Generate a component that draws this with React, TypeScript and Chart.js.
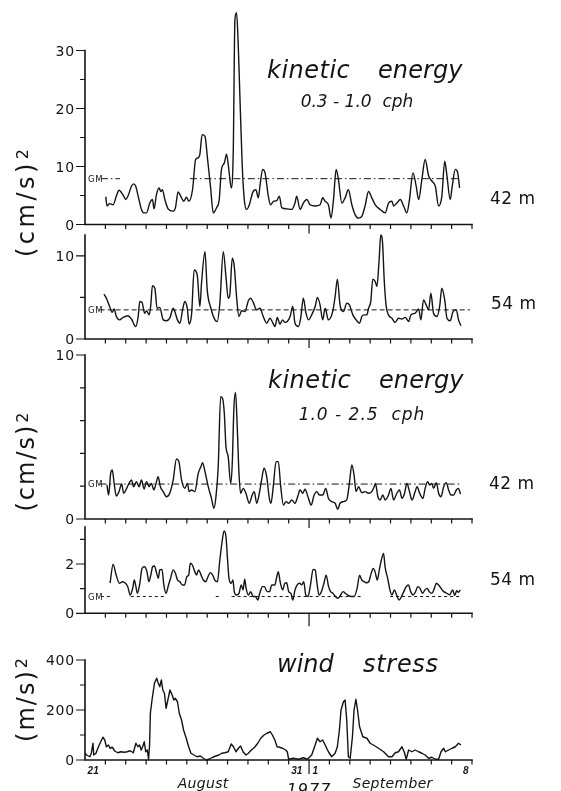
import React, { useEffect, useRef } from 'react';
import { Chart, registerables } from 'chart.js';

Chart.register(...registerables);

// ---------------- data (time = days since 21 Aug 1977 00:00) ----------------
const X_MIN = 0;
const X_MAX = 19;
const DAY_TICKS = [1, 2, 3, 4, 5, 6, 7, 8, 9, 10, 11, 12, 13, 14, 15, 16, 17, 18, 19];
const MONTH_BOUNDARY = 11;

const DATE_LABELS = ['21', '31', '1', '8'];
const DATE_LABEL_DAYS = [0.4, 10.4, 11.3, 18.7];
const MONTH_LABELS = ['August', 'September'];
const MONTH_LABEL_DAYS = [5.8, 15.1];
const YEAR_LABEL = '1977';
const YEAR_LABEL_DAY = 11.0;

// kinetic energy 0.3-1.0 cph, 42 m
const KE1_42_T = [1.02,1.08,1.21,1.38,1.54,1.67,1.79,1.90,2.00,2.11,2.28,2.39,2.49,2.61,2.77,2.90,3.02,3.18,3.31,3.39,3.51,3.64,3.72,3.80,3.92,4.08,4.33,4.44,4.57,4.74,4.85,4.98,5.10,5.28,5.43,5.56,5.64,5.75,5.89,6.02,6.16,6.30,6.46,6.59,6.70,6.84,6.95,7.08,7.18,7.28,7.36,7.44,7.52,7.61,7.72,7.82,7.93,8.07,8.23,8.39,8.51,8.59,8.72,8.84,9.00,9.11,9.25,9.41,9.54,9.66,9.90,10.15,10.31,10.39,10.56,10.72,10.89,11.05,11.30,11.54,11.67,11.79,11.95,12.08,12.20,12.33,12.44,12.61,12.77,12.93,13.10,13.26,13.43,13.59,13.75,13.92,14.08,14.25,14.49,14.74,14.90,15.07,15.15,15.31,15.48,15.64,15.80,15.93,16.10,16.26,16.38,16.54,16.70,16.87,17.03,17.20,17.36,17.52,17.66,17.77,17.93,18.03,18.18,18.30,18.39];
const KE1_42_V = [4.8,3.2,3.6,3.4,4.9,5.9,5.5,4.9,4.3,4.9,6.6,7.0,6.6,4.9,2.6,2.0,2.0,3.7,4.3,2.7,5.2,6.3,5.7,6.0,4.3,2.7,2.3,2.9,5.6,4.6,4.0,4.7,4.0,6.0,11.2,11.5,12.1,15.5,15.2,11.2,6.6,2.0,2.9,4.3,9.5,10.6,12.1,8.9,6.3,12.9,35.3,36.5,31.3,21.5,10.1,4.3,2.6,3.4,5.5,6.0,4.6,6.6,9.5,8.9,4.9,3.4,4.0,4.1,4.9,2.9,2.7,2.6,3.7,4.9,2.6,3.7,4.3,3.4,3.2,3.4,4.6,4.0,3.4,1.1,4.3,9.5,7.8,3.7,4.6,6.0,3.4,1.7,1.1,1.4,3.2,5.7,4.6,3.4,2.6,2.0,3.7,4.0,3.2,3.7,4.3,3.2,2.0,4.3,8.9,6.6,4.3,7.8,11.2,8.4,7.5,6.6,3.2,4.9,10.9,8.4,4.3,6.6,9.5,8.9,6.3];
const KE1_42_GM = 7.9;
const KE1_42_GM_SEGS = [[0.78, 1.72], [5.15, 18.4]];

// kinetic energy 0.3-1.0 cph, 54 m
const KE1_54_T = [0.93,1.05,1.21,1.33,1.43,1.54,1.70,1.87,2.11,2.28,2.49,2.61,2.69,2.80,2.93,3.02,3.15,3.23,3.31,3.43,3.54,3.67,3.84,4.00,4.16,4.33,4.41,4.54,4.66,4.79,4.90,5.02,5.11,5.23,5.36,5.51,5.64,5.72,5.89,6.00,6.18,6.38,6.49,6.62,6.79,6.92,7.03,7.11,7.23,7.33,7.44,7.56,7.69,7.85,8.02,8.13,8.26,8.43,8.59,8.75,8.92,9.08,9.21,9.33,9.44,9.57,9.70,9.82,9.93,10.07,10.20,10.31,10.48,10.59,10.72,10.85,10.97,11.13,11.30,11.41,11.54,11.67,11.79,11.95,12.16,12.28,12.39,12.52,12.69,12.85,12.98,13.15,13.31,13.48,13.59,13.70,13.84,13.92,14.03,14.13,14.25,14.33,14.44,14.52,14.61,14.69,14.79,14.90,15.07,15.23,15.39,15.56,15.72,15.89,16.00,16.21,16.38,16.49,16.62,16.75,16.87,16.98,17.11,17.28,17.41,17.52,17.66,17.77,17.93,18.07,18.23,18.34,18.46];
const KE1_54_V = [5.4,4.9,3.9,3.2,3.6,2.7,2.3,2.6,2.8,2.4,1.5,2.7,4.5,4.4,3.1,3.4,2.9,4.1,6.4,6.1,3.7,3.8,2.3,2.2,2.5,3.7,3.3,2.3,1.9,3.5,4.5,3.7,1.8,2.9,8.3,7.7,3.9,6.7,10.5,5.9,3.7,2.3,2.1,4.3,10.5,7.5,4.9,5.3,9.7,8.7,5.1,2.7,3.4,3.3,4.6,4.9,4.4,3.5,3.7,2.7,1.9,2.5,2.0,1.5,2.6,1.8,2.3,2.0,2.1,2.7,3.9,1.9,1.5,2.5,4.9,3.1,2.3,2.9,3.9,5.0,4.1,2.3,3.7,2.3,3.3,5.1,7.2,4.1,3.3,4.3,4.1,2.9,2.3,1.9,2.7,2.9,2.9,3.7,4.5,7.2,6.9,6.3,9.5,12.5,11.5,7.1,3.9,2.9,2.5,2.0,2.5,2.4,2.6,2.1,2.9,3.1,3.6,2.3,4.7,4.1,3.5,5.5,3.1,2.7,3.9,6.1,4.7,2.5,2.2,3.3,3.5,2.3,1.6];
const KE1_54_GM = 3.5;
const KE1_54_GM_SEGS = [[0.72, 18.9]];

// kinetic energy 1.0-2.5 cph, 42 m
const KE2_42_T = [1.08,1.16,1.26,1.34,1.43,1.54,1.67,1.80,1.90,2.03,2.16,2.28,2.39,2.52,2.66,2.77,2.90,3.02,3.15,3.26,3.38,3.48,3.59,3.70,3.84,4.00,4.16,4.33,4.49,4.61,4.74,4.90,5.03,5.11,5.23,5.39,5.56,5.69,5.77,5.89,6.05,6.21,6.33,6.43,6.54,6.66,6.75,6.84,6.92,7.03,7.15,7.23,7.31,7.39,7.48,7.56,7.64,7.77,7.90,8.07,8.18,8.31,8.43,8.56,8.67,8.79,8.92,9.05,9.13,9.25,9.38,9.49,9.61,9.74,9.87,10.00,10.15,10.31,10.44,10.56,10.69,10.80,10.97,11.10,11.25,11.38,11.51,11.67,11.82,11.95,12.11,12.28,12.41,12.52,12.69,12.85,12.98,13.10,13.21,13.31,13.43,13.59,13.75,13.92,14.08,14.20,14.26,14.38,14.49,14.62,14.74,14.90,15.02,15.15,15.31,15.44,15.56,15.69,15.80,15.93,16.05,16.21,16.30,16.43,16.59,16.70,16.82,16.92,17.03,17.11,17.25,17.36,17.48,17.61,17.74,17.85,17.97,18.10,18.23,18.33,18.44];
const KE2_42_V = [2.07,1.46,2.78,2.99,2.17,1.40,1.67,2.13,1.57,1.83,2.17,2.38,1.97,2.28,1.97,2.38,1.83,2.28,1.97,2.17,1.77,2.13,2.58,1.97,1.67,1.36,1.57,2.38,3.66,3.50,2.38,1.87,2.17,1.67,1.77,1.67,2.78,3.19,3.43,2.89,1.97,1.26,0.65,1.36,3.19,7.46,7.36,6.44,4.41,3.80,2.17,3.39,6.75,7.72,5.43,2.78,1.57,1.87,1.57,0.96,1.36,1.67,0.96,1.57,2.38,3.09,2.58,1.26,0.96,2.07,3.50,3.50,1.97,0.85,1.06,0.96,1.16,0.96,1.36,1.77,1.57,1.81,1.26,0.85,1.46,1.67,1.46,1.46,1.87,1.26,1.06,0.96,0.59,0.96,1.06,1.16,2.17,3.29,2.68,1.67,1.97,1.61,1.67,1.57,1.67,1.97,2.17,1.36,1.16,1.46,1.16,1.46,1.87,1.16,1.57,1.77,1.26,1.57,2.17,1.67,1.16,1.67,1.97,1.57,1.26,1.87,2.28,2.07,2.17,1.87,2.22,1.57,1.36,1.97,2.22,1.77,1.46,1.46,1.77,1.87,1.52];
const KE2_42_GM = 2.13;
const KE2_42_GM_SEGS = [[0.72, 18.43]];

// kinetic energy 1.0-2.5 cph, 54 m
const KE2_54_T = [1.23,1.38,1.53,1.69,1.84,1.99,2.10,2.22,2.34,2.42,2.50,2.57,2.68,2.80,2.92,3.04,3.14,3.23,3.32,3.41,3.52,3.60,3.67,3.78,3.87,3.98,4.10,4.20,4.33,4.44,4.54,4.66,4.78,4.89,5.00,5.09,5.17,5.27,5.39,5.47,5.58,5.70,5.81,5.93,6.04,6.16,6.27,6.37,6.50,6.62,6.72,6.83,6.92,7.00,7.07,7.18,7.26,7.33,7.44,7.56,7.67,7.76,7.84,7.91,8.02,8.14,8.25,8.37,8.48,8.58,8.71,8.81,8.94,9.06,9.17,9.32,9.40,9.49,9.58,9.70,9.81,9.90,10.00,10.11,10.20,10.31,10.42,10.54,10.64,10.74,10.84,10.95,11.07,11.20,11.30,11.38,11.49,11.61,11.73,11.84,11.96,12.06,12.17,12.30,12.42,12.52,12.67,12.78,12.90,13.06,13.21,13.36,13.48,13.59,13.70,13.82,13.93,14.05,14.15,14.24,14.35,14.45,14.55,14.66,14.73,14.86,14.97,15.07,15.19,15.30,15.42,15.54,15.65,15.77,15.88,15.99,16.11,16.23,16.34,16.45,16.57,16.69,16.80,16.90,17.03,17.15,17.25,17.36,17.48,17.61,17.71,17.90,18.05,18.15,18.25,18.33,18.43];
const KE2_54_V = [1.22,1.99,1.55,1.22,1.28,1.22,1.08,0.74,1.01,1.35,1.08,0.81,1.15,1.82,1.89,1.69,1.28,1.55,1.89,1.92,1.62,1.42,1.76,1.78,1.15,0.81,1.15,1.42,1.76,1.62,1.35,1.28,1.15,1.15,1.49,1.55,2.03,1.96,1.69,1.55,1.76,1.55,1.35,1.28,1.49,1.65,1.55,1.35,1.28,2.16,2.84,3.34,3.11,2.16,1.42,1.22,1.35,0.88,0.74,0.81,1.15,0.95,1.38,1.01,0.74,0.88,0.68,0.68,0.54,0.81,1.08,1.08,0.88,0.88,1.15,1.15,1.42,1.69,1.28,0.95,1.22,1.24,0.88,0.81,0.54,0.95,1.15,1.22,1.15,1.28,0.74,0.68,1.15,1.78,1.76,1.28,0.74,0.88,1.22,1.55,1.08,0.88,0.81,0.68,0.61,0.70,0.88,0.81,0.74,0.68,0.68,1.01,1.55,1.35,1.28,1.24,1.28,1.62,1.82,1.69,1.35,1.76,2.16,2.43,1.89,1.42,0.95,0.74,0.95,0.74,0.54,0.68,0.88,1.08,1.15,0.88,0.74,0.88,1.08,1.01,0.81,0.95,1.01,0.88,0.81,1.01,1.22,1.15,1.01,0.88,0.84,0.75,0.95,0.72,0.92,0.85,0.95];
const KE2_54_GM = 0.68;
const KE2_54_GM_SEGS = [[0.78, 1.31], [2.25, 3.9], [6.42, 6.58], [7.2, 13.67], [14.98, 18.43]];

// wind stress (m/s)^2
const WIND_T = [0.01,0.08,0.24,0.31,0.39,0.43,0.54,0.66,0.77,0.88,0.97,1.05,1.15,1.23,1.34,1.46,1.61,1.76,1.92,2.07,2.22,2.37,2.50,2.60,2.68,2.76,2.83,2.91,2.98,3.06,3.12,3.17,3.21,3.29,3.41,3.52,3.60,3.67,3.75,3.82,3.90,3.98,4.05,4.17,4.28,4.36,4.43,4.54,4.63,4.74,4.84,4.97,5.09,5.20,5.35,5.50,5.66,5.81,5.96,6.11,6.27,6.42,6.57,6.72,6.87,7.03,7.18,7.29,7.41,7.53,7.64,7.76,7.90,8.02,8.17,8.33,8.48,8.63,8.79,8.94,9.10,9.20,9.32,9.43,9.55,9.70,9.85,9.93,10.00,10.23,10.48,10.72,10.92,11.13,11.30,11.41,11.54,11.67,11.79,11.95,12.11,12.28,12.39,12.49,12.57,12.69,12.77,12.85,12.93,13.02,13.13,13.21,13.30,13.38,13.48,13.64,13.84,14.00,14.16,14.41,14.66,14.90,15.07,15.23,15.39,15.56,15.67,15.77,15.89,16.05,16.21,16.38,16.54,16.70,16.87,17.03,17.20,17.36,17.48,17.61,17.69,17.85,18.02,18.18,18.34,18.46];
const WIND_V = [27,20,13,27,67,20,27,53,73,91,80,53,60,47,51,36,29,33,31,33,37,29,67,53,60,40,53,73,33,40,3,60,187,240,307,327,307,293,320,280,267,207,233,280,260,240,247,233,187,160,120,87,53,27,20,13,16,7,0,4,11,16,20,27,29,33,64,53,33,47,56,33,20,27,40,51,67,87,100,107,113,100,80,53,51,47,40,33,3,7,3,9,3,20,60,87,73,80,60,33,13,27,53,120,200,233,240,160,13,7,93,200,243,200,133,93,87,67,60,47,33,13,13,29,33,53,33,3,40,33,40,33,27,20,7,11,3,3,33,47,33,40,47,53,67,60];

// ---------------- layout / style ----------------
const W = 561;
const H = 791;
const PLOT_LEFT = 85;
const PLOT_RIGHT = 472;
const INK = '#141414';
const SANS = '"DejaVu Sans", "Liberation Sans", sans-serif';

type TextItem = { text: string; x: number; y: number; font: string; align?: CanvasTextAlign; ls?: number };
type Panel = {
  t: number[]; v: number[]; smooth: boolean;
  yTop: number; topPx: number; zeroPx: number;
  ticks: number[]; labels: number[];
  gm?: { value: number; segs: number[][]; dash: number[] };
  longTick: number;
  texts: TextItem[];
  extra?: (chart: any) => void;
};

const TITLE_FONT = `italic 24px ${SANS}`;
const SUB_FONT = `italic 17px ${SANS}`;
const DEPTH_FONT = `17px ${SANS}`;

function drawText(ctx: CanvasRenderingContext2D, it: TextItem) {
  ctx.font = it.font;
  (ctx as any).letterSpacing = `${it.ls ?? 0}px`;
  ctx.textAlign = it.align ?? 'left';
  ctx.textBaseline = 'alphabetic';
  ctx.fillStyle = INK;
  ctx.fillText(it.text, it.x, it.y);
  (ctx as any).letterSpacing = '0px';
}

function drawRotTitle(ctx: CanvasRenderingContext2D, main: string, sup: string, cy: number, baseX: number, supBaseX: number, ls: number) {
  ctx.save();
  ctx.translate(baseX, cy);
  ctx.rotate(-Math.PI / 2);
  ctx.fillStyle = INK;
  ctx.textBaseline = 'alphabetic';
  ctx.textAlign = 'left';
  ctx.font = `24px ${SANS}`;
  (ctx as any).letterSpacing = `${ls}px`;
  const wM = ctx.measureText(main).width;
  ctx.font = `16px ${SANS}`;
  (ctx as any).letterSpacing = '0px';
  const wS = ctx.measureText(sup).width;
  const total = wM + 1 + wS;
  const start = -total / 2;
  ctx.font = `24px ${SANS}`;
  (ctx as any).letterSpacing = `${ls}px`;
  ctx.fillText(main, start, 0);
  ctx.font = `16px ${SANS}`;
  (ctx as any).letterSpacing = '0px';
  ctx.fillText(sup, start + wM + 1, supBaseX - baseX);
  ctx.restore();
}

const PANELS: Panel[] = [
  {
    t: KE1_42_T, v: KE1_42_V, smooth: true,
    yTop: 30, topPx: 50.5, zeroPx: 224.5,
    ticks: [0, 5, 10, 15, 20, 25, 30], labels: [0, 10, 20, 30],
    gm: { value: KE1_42_GM, segs: KE1_42_GM_SEGS, dash: [7, 3, 1.5, 3] },
    longTick: 9,
    texts: [
      { text: 'kinetic', x: 267, y: 78, font: TITLE_FONT, ls: 0.5 },
      { text: 'energy', x: 378, y: 78, font: TITLE_FONT, ls: 0.1 },
      { text: '0.3 - 1.0  cph', x: 357, y: 106.5, font: SUB_FONT, align: 'center', ls: 0 },
      { text: '42 m', x: 490, y: 203.5, font: DEPTH_FONT, ls: 0.5 },
    ],
    extra: (chart) => {
      drawRotTitle(chart.ctx, '(cm/s)', '2', 203, 34, 28, 3.5);
    },
  },
  {
    t: KE1_54_T, v: KE1_54_V, smooth: true,
    yTop: 12.5, topPx: 235, zeroPx: 339,
    ticks: [0, 5, 10], labels: [0, 10],
    gm: { value: KE1_54_GM, segs: KE1_54_GM_SEGS, dash: [5, 3] },
    longTick: 9,
    texts: [{ text: '54 m', x: 491, y: 308.5, font: DEPTH_FONT, ls: 0.5 }],
  },
  {
    t: KE2_42_T, v: KE2_42_V, smooth: true,
    yTop: 10, topPx: 355, zeroPx: 519,
    ticks: [0, 2, 4, 6, 8, 10], labels: [0, 10],
    gm: { value: KE2_42_GM, segs: KE2_42_GM_SEGS, dash: [7, 3, 1.5, 3] },
    longTick: 9,
    texts: [
      { text: 'kinetic', x: 268, y: 388, font: TITLE_FONT, ls: 0.5 },
      { text: 'energy', x: 379, y: 388, font: TITLE_FONT, ls: 0.1 },
      { text: '1.0 - 2.5  cph', x: 362, y: 420, font: SUB_FONT, align: 'center', ls: 1.0 },
      { text: '42 m', x: 489, y: 488.5, font: DEPTH_FONT, ls: 0.5 },
    ],
    extra: (chart) => {
      drawRotTitle(chart.ctx, '(cm/s)', '2', 462, 34, 28, 2.0);
    },
  },
  {
    t: KE2_54_T, v: KE2_54_V, smooth: true,
    yTop: 3.5, topPx: 527, zeroPx: 613.3,
    ticks: [0, 1, 2, 3], labels: [0, 2],
    gm: { value: KE2_54_GM, segs: KE2_54_GM_SEGS, dash: [3, 3] },
    longTick: 13,
    texts: [{ text: '54 m', x: 490, y: 585, font: DEPTH_FONT, ls: 0.5 }],
  },
  {
    t: WIND_T, v: WIND_V, smooth: false,
    yTop: 400, topPx: 660, zeroPx: 760,
    ticks: [0, 100, 200, 300, 400], labels: [0, 200, 400],
    longTick: 14,
    texts: [
      { text: 'wind', x: 277, y: 672, font: TITLE_FONT, ls: 0 },
      { text: 'stress', x: 363, y: 672, font: TITLE_FONT, ls: 0.7 },
    ],
    extra: (chart) => {
      const ctx = chart.ctx as CanvasRenderingContext2D;
      const xs = chart.scales.x;
      drawRotTitle(ctx, '(m/s)', '2', 700, 34, 27, 2.0);
      DATE_LABELS.forEach((lab, i) => {
        drawText(ctx, { text: lab, x: xs.getPixelForValue(DATE_LABEL_DAYS[i]), y: 773.5, font: `italic bold 10px "Liberation Sans", sans-serif`, align: 'center' });
      });
      MONTH_LABELS.forEach((lab, i) => {
        drawText(ctx, { text: lab, x: xs.getPixelForValue(MONTH_LABEL_DAYS[i]), y: 788, font: `italic 14px ${SANS}`, align: 'center', ls: 0.3 });
      });
      drawText(ctx, { text: YEAR_LABEL, x: xs.getPixelForValue(YEAR_LABEL_DAY), y: 795, font: `italic 16px ${SANS}`, align: 'center', ls: 1 });
    },
  },
];

function axesPlugin(p: Panel, idx: number) {
  return {
    id: 'panelAxes' + idx,
    afterDatasetsDraw(chart: any) {
      const ctx = chart.ctx as CanvasRenderingContext2D;
      const xs = chart.scales.x;
      const ys = chart.scales.y;
      const x0 = xs.getPixelForValue(X_MIN);
      const x1 = xs.getPixelForValue(X_MAX);
      const y0 = ys.getPixelForValue(0);
      const yT = ys.getPixelForValue(p.yTop);
      ctx.save();
      ctx.strokeStyle = INK;
      ctx.lineWidth = 1.6;
      ctx.lineCap = 'square';
      ctx.beginPath();
      ctx.moveTo(x0, yT);
      ctx.lineTo(x0, y0);
      ctx.lineTo(x1, y0);
      ctx.stroke();

      ctx.lineWidth = 1.2;
      ctx.lineCap = 'butt';
      ctx.beginPath();
      for (const v of p.ticks) {
        const y = ys.getPixelForValue(v);
        const major = p.labels.includes(v);
        ctx.moveTo(x0, y);
        ctx.lineTo(x0 - (major ? 9 : 5), y);
      }
      for (const d of DAY_TICKS) {
        const x = xs.getPixelForValue(d);
        ctx.moveTo(x, y0);
        ctx.lineTo(x, y0 + (d === MONTH_BOUNDARY ? p.longTick : 4.5));
      }
      ctx.stroke();

      for (const v of p.labels) {
        drawText(ctx, { text: String(v), x: x0 - 10, y: ys.getPixelForValue(v) + 5, font: `14px ${SANS}`, align: 'right', ls: 0.8 });
      }
      if (p.gm) {
        drawText(ctx, { text: 'GM', x: x0 + 3, y: ys.getPixelForValue(p.gm.value) + 3, font: `8.5px ${SANS}`, ls: 0.6 });
      }
      for (const it of p.texts) drawText(ctx, it);
      if (p.extra) p.extra(chart);
      ctx.restore();
    },
  };
}

function gmData(g: { value: number; segs: number[][] }) {
  const pts: { x: number; y: number | null }[] = [];
  for (const [a, b] of g.segs) {
    pts.push({ x: a, y: g.value }, { x: b, y: g.value }, { x: b, y: null });
  }
  return pts;
}

function buildConfig(p: Panel, idx: number): any {
  const datasets: any[] = [
    {
      data: p.t.map((x, i) => ({ x, y: p.v[i] })),
      borderColor: INK,
      borderWidth: 1.4,
      pointRadius: 0,
      fill: false,
      clip: false,
      borderJoinStyle: 'round',
      cubicInterpolationMode: p.smooth ? 'monotone' : 'default',
      tension: 0,
    },
  ];
  if (p.gm) {
    datasets.push({
      data: gmData(p.gm),
      borderColor: INK,
      borderWidth: 1,
      borderDash: p.gm.dash,
      pointRadius: 0,
      fill: false,
      spanGaps: false,
      clip: false,
      tension: 0,
    });
  }
  return {
    type: 'line',
    data: { datasets },
    options: {
      responsive: false,
      maintainAspectRatio: false,
      animation: false,
      devicePixelRatio: 1,
      events: [],
      layout: { padding: { left: PLOT_LEFT, right: W - PLOT_RIGHT, top: p.topPx, bottom: H - p.zeroPx } },
      scales: {
        x: { type: 'linear', min: X_MIN, max: X_MAX, display: false },
        y: { type: 'linear', min: 0, max: p.yTop, display: false },
      },
      plugins: { legend: { display: false }, tooltip: { enabled: false }, title: { display: false } },
    },
    plugins: [axesPlugin(p, idx)],
  };
}

export default function App() {
  const refs = useRef<(HTMLCanvasElement | null)[]>([]);
  useEffect(() => {
    const charts = PANELS.map((p, i) => new Chart(refs.current[i] as HTMLCanvasElement, buildConfig(p, i)));
    return () => charts.forEach((c) => c.destroy());
  }, []);
  return (
    <div style={{ position: 'absolute', left: 0, top: 0, width: W, height: H, background: '#fff', overflow: 'hidden' }}>
      {PANELS.map((_, i) => (
        <canvas
          key={i}
          ref={(el) => { refs.current[i] = el; }}
          width={W}
          height={H}
          style={{ position: 'absolute', left: 0, top: 0, width: W, height: H }}
        />
      ))}
    </div>
  );
}
